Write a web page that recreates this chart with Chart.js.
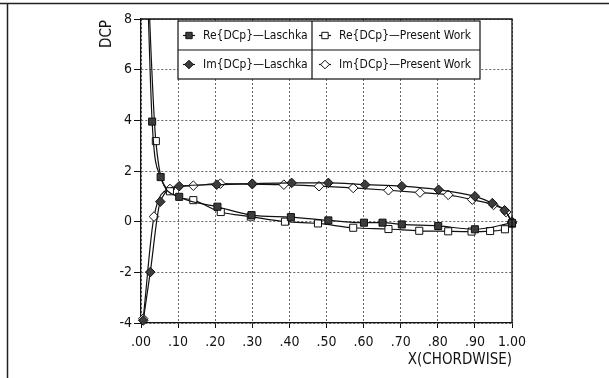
<!DOCTYPE html>
<html lang="en">
<head>
<meta charset="utf-8">
<title>DCP chordwise</title>
<script src="https://cdn.jsdelivr.net/npm/chart.js@4.4.0/dist/chart.umd.min.js"></script>
<style>
    html, body { margin: 0; padding: 0; background: #fff; }
</style>
</head>
<body>
<canvas id="myChart" width="609" height="378"></canvas>
<script>
// values (x = chordwise station, y = DCP)
const reLaschkaX = [0.012, 0.030, 0.053, 0.103, 0.206, 0.298, 0.404, 0.505, 0.601, 0.651, 0.703, 0.801, 0.900, 1.000];
const reLaschkaY = [12.0, 3.95, 1.76, 0.98, 0.59, 0.26, 0.18, 0.05, -0.04, -0.04, -0.11, -0.17, -0.30, -0.05];

const rePresentX = [0.012, 0.040, 0.078, 0.141, 0.215, 0.296, 0.388, 0.477, 0.572, 0.667, 0.750, 0.828, 0.891, 0.941, 0.981, 1.000];
const rePresentY = [12.0, 3.18, 1.20, 0.85, 0.38, 0.20, 0.00, -0.07, -0.24, -0.29, -0.36, -0.38, -0.39, -0.37, -0.30, -0.08];

const imLaschkaX = [0.006, 0.025, 0.052, 0.103, 0.204, 0.300, 0.406, 0.505, 0.604, 0.703, 0.802, 0.900, 0.947, 0.980, 1.000];
const imLaschkaY = [-3.90, -1.99, 0.79, 1.40, 1.46, 1.50, 1.53, 1.53, 1.46, 1.40, 1.26, 1.00, 0.73, 0.45, 0.00];

const imPresentX = [0.006, 0.035, 0.078, 0.141, 0.214, 0.300, 0.385, 0.480, 0.572, 0.667, 0.752, 0.828, 0.893, 0.950, 0.984, 1.000];
const imPresentY = [-3.83, 0.20, 1.29, 1.42, 1.50, 1.48, 1.46, 1.40, 1.33, 1.24, 1.15, 1.06, 0.87, 0.66, 0.38, -0.05];

const seriesNames = ['Re{DCp}\u2014Laschka', 'Re{DCp}\u2014Present Work', 'Im{DCp}\u2014Laschka', 'Im{DCp}\u2014Present Work'];
const xTickLabels = ['.00', '.10', '.20', '.30', '.40', '.50', '.60', '.70', '.80', '.90', '1.00'];
const yTickLabels = ['-4', '-2', '0', '2', '4', '6', '8'];
const xTitle = 'X(CHORDWISE)';
const yTitle = 'DCP';

const FONT = "'DejaVu Sans Condensed', 'DejaVu Sans', sans-serif";
Chart.defaults.font.family = FONT;
Chart.defaults.color = '#111';

function pts(xs, ys) {
    return xs.map((x, i) => ({ x: x, y: ys[i] }));
}

function ds(label, xs, ys, style, fill, radius) {
    return {
        label: label,
        data: pts(xs, ys),
        borderColor: '#111',
        borderWidth: 1.2,
        pointStyle: style,
        pointRadius: radius,
        pointBorderWidth: 1,
        pointBorderColor: '#111',
        pointBackgroundColor: fill,
        cubicInterpolationMode: 'monotone',
        clip: { left: 8, top: 0, right: 8, bottom: 8 }
    };
}

// frame, plot border, 2x2 legend table and axis titles
const decorPlugin = {
    id: 'decor',
    beforeDraw(chart) {
        const ctx = chart.ctx;
        ctx.save();
        ctx.fillStyle = '#fff';
        ctx.fillRect(0, 0, chart.width, chart.height);
        ctx.strokeStyle = '#222';
        ctx.lineWidth = 1.5;
        ctx.beginPath();
        ctx.moveTo(0, 3.5); ctx.lineTo(chart.width, 3.5);
        ctx.moveTo(7.5, 3.5); ctx.lineTo(7.5, chart.height);
        ctx.stroke();
        ctx.restore();
    },
    afterDraw(chart) {
        const ctx = chart.ctx;
        const a = chart.chartArea;
        ctx.save();
        ctx.strokeStyle = '#111';
        ctx.lineWidth = 1.3;
        ctx.beginPath();
        ctx.moveTo(a.left, a.top); ctx.lineTo(a.right, a.top); ctx.lineTo(a.right, a.bottom);
        ctx.stroke();

        // legend table
        const lx = a.left + 37, ly = a.top + 2, lw = 302, lh = 58, colX = lx + 134;
        ctx.fillStyle = '#fff';
        ctx.fillRect(lx, ly, lw, lh);
        ctx.lineWidth = 1.2;
        ctx.strokeRect(lx, ly, lw, lh);
        ctx.beginPath();
        ctx.moveTo(lx, ly + lh / 2); ctx.lineTo(lx + lw, ly + lh / 2);
        ctx.moveTo(colX, ly); ctx.lineTo(colX, ly + lh);
        ctx.stroke();

        ctx.font = '12px ' + FONT;
        ctx.textBaseline = 'middle';
        ctx.textAlign = 'left';
        chart.data.datasets.forEach((d, i) => {
            const col = i % 2, row = Math.floor(i / 2);
            const mx = col === 0 ? lx + 11 : colX + 13;
            const cy = ly + lh / 4 + row * lh / 2;
            ctx.strokeStyle = '#111';
            ctx.lineWidth = 1.2;
            ctx.beginPath();
            ctx.moveTo(mx - 6, cy); ctx.lineTo(mx + 6, cy);
            ctx.stroke();
            ctx.fillStyle = d.pointBackgroundColor;
            ctx.lineWidth = 1;
            Chart.helpers.drawPoint(ctx, { pointStyle: d.pointStyle, radius: d.pointRadius - 0.5, borderWidth: 1 }, mx, cy);
            ctx.fillStyle = '#111';
            ctx.fillText(d.label, mx + 14, cy);
        });

        // axis titles
        ctx.fillStyle = '#111';
        ctx.font = '15px ' + FONT;
        ctx.textAlign = 'right';
        ctx.textBaseline = 'middle';
        ctx.fillText(xTitle, a.right, 360);
        ctx.translate(107, 34);
        ctx.rotate(-Math.PI / 2);
        ctx.textAlign = 'center';
        ctx.fillText(yTitle, 0, 0);
        ctx.restore();
    }
};

const ctx = document.getElementById('myChart').getContext('2d');
const myChart = new Chart(ctx, {
    type: 'line',
    data: {
        datasets: [
            ds(seriesNames[0], reLaschkaX, reLaschkaY, 'rect', '#3c3c3c', 5),
            ds(seriesNames[1], rePresentX, rePresentY, 'rect', '#fff', 5),
            ds(seriesNames[2], imLaschkaX, imLaschkaY, 'rectRot', '#3c3c3c', 4.8),
            ds(seriesNames[3], imPresentX, imPresentY, 'rectRot', '#fff', 4.8)
        ]
    },
    options: {
        responsive: false,
        animation: false,
        devicePixelRatio: 1,
        layout: { padding: { left: 0, right: 97, top: 19, bottom: 0 } },
        plugins: {
            legend: { display: false },
            tooltip: { enabled: false }
        },
        scales: {
            x: {
                type: 'linear',
                min: 0,
                max: 1,
                afterFit: (s) => { s.height = 55; },
                ticks: {
                    stepSize: 0.1,
                    padding: 6,
                    maxRotation: 0,
                    font: { size: 14 },
                    callback: (v, i) => xTickLabels[i]
                },
                grid: { color: '#666', lineWidth: 1, tickLength: 5, tickColor: '#111', tickBorderDash: [] },
                border: { color: '#111', width: 1.3, dash: [2, 2] }
            },
            y: {
                min: -4,
                max: 8,
                afterFit: (s) => { s.width = 141; },
                ticks: {
                    stepSize: 2,
                    padding: 2,
                    font: { size: 14 },
                    callback: (v, i) => yTickLabels[i]
                },
                grid: { color: '#666', lineWidth: 1, tickLength: 7, tickColor: '#111', tickBorderDash: [] },
                border: { color: '#111', width: 1.3, dash: [2, 2] }
            }
        }
    },
    plugins: [decorPlugin]
});
</script>
</body>
</html>
